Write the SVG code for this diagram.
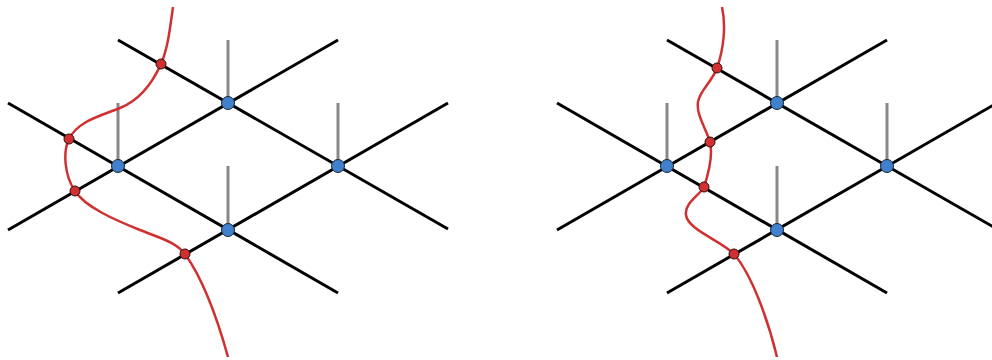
<svg xmlns="http://www.w3.org/2000/svg" width="992" height="360" viewBox="0 0 992 360">
<style>
.edge{stroke:#000;stroke-width:3;fill:none}
.stub{stroke:#888;stroke-width:3;fill:none}
.cut{stroke:#d03030;stroke-width:2.5;fill:none}
.bn{fill:#4080cc;stroke:#1a2a3a;stroke-width:1}
.rn{fill:#d03030;stroke:#2a1010;stroke-width:1}
</style>
<g id="connectors">
  <g id="left-stubs">
    <line class="stub" x1="118" y1="103" x2="118" y2="166"/>
    <line class="stub" x1="228" y1="40" x2="228" y2="103"/>
    <line class="stub" x1="228" y1="166" x2="228" y2="230"/>
    <line class="stub" x1="338" y1="103" x2="338" y2="166"/>
  </g>
  <g id="left-edges">
    <line class="edge" x1="118" y1="40" x2="448" y2="229"/>
    <line class="edge" x1="8" y1="103" x2="338" y2="293"/>
    <line class="edge" x1="8" y1="230" x2="338" y2="40"/>
    <line class="edge" x1="118" y1="293" x2="448" y2="103"/>
  </g>
  <g id="right-stubs">
    <line class="stub" x1="667" y1="103" x2="667" y2="166"/>
    <line class="stub" x1="777" y1="40" x2="777" y2="103"/>
    <line class="stub" x1="777" y1="166" x2="777" y2="230"/>
    <line class="stub" x1="887" y1="103" x2="887" y2="166"/>
  </g>
  <g id="right-edges">
    <line class="edge" x1="667" y1="40" x2="997" y2="229"/>
    <line class="edge" x1="557" y1="103" x2="887" y2="293"/>
    <line class="edge" x1="557" y1="230" x2="887" y2="40"/>
    <line class="edge" x1="667" y1="293" x2="997" y2="103"/>
  </g>
  <path id="left-cut" class="cut" d="M173,7 C170,28 168,48 161,64 C152,84 140,100 120,108 C100,116 78,121 69,139 C63,151 64,175 75,191 C85,207 115,220 140,230 C160,238 176,242 185,254 C200,275 215,310 228,357"/>
  <path id="right-cut" class="cut" d="M722,7 C726,25 724,48 717,68 C712,82 700,90 698,102 C696,115 706,128 710,142 C713,155 708,175 704,187 C700,195 684,203 686,215 C688,230 720,240 734,254 C752,275 768,320 777,357"/>
</g>
<g id="L-n1"><circle class="bn" cx="118" cy="166" r="6.5"/></g>
<g id="L-n2"><circle class="bn" cx="228" cy="103" r="6.5"/></g>
<g id="L-n3"><circle class="bn" cx="228" cy="230" r="6.5"/></g>
<g id="L-n4"><circle class="bn" cx="338" cy="166" r="6.5"/></g>
<g id="L-r1"><circle class="rn" cx="161" cy="64" r="5"/></g>
<g id="L-r2"><circle class="rn" cx="69" cy="139" r="5"/></g>
<g id="L-r3"><circle class="rn" cx="75" cy="191" r="5"/></g>
<g id="L-r4"><circle class="rn" cx="185" cy="254" r="5"/></g>
<g id="R-n1"><circle class="bn" cx="667" cy="166" r="6.5"/></g>
<g id="R-n2"><circle class="bn" cx="777" cy="103" r="6.5"/></g>
<g id="R-n3"><circle class="bn" cx="777" cy="230" r="6.5"/></g>
<g id="R-n4"><circle class="bn" cx="887" cy="166" r="6.5"/></g>
<g id="R-r1"><circle class="rn" cx="717" cy="68" r="5"/></g>
<g id="R-r2"><circle class="rn" cx="710" cy="142" r="5"/></g>
<g id="R-r3"><circle class="rn" cx="704" cy="187" r="5"/></g>
<g id="R-r4"><circle class="rn" cx="734" cy="254" r="5"/></g>
</svg>
